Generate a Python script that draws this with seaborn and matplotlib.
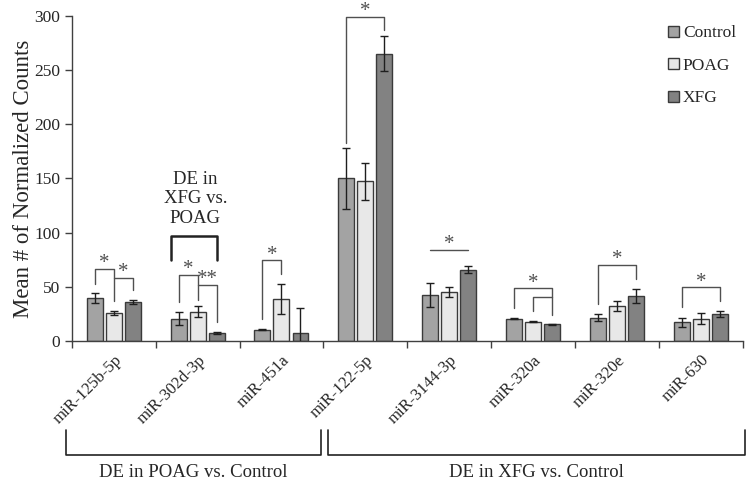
import numpy as np
import pandas as pd
import matplotlib
matplotlib.use("Agg")
import matplotlib.pyplot as plt
import seaborn as sns
from matplotlib.transforms import blended_transform_factory

# ---------------------------------------------------------
# Data
# ---------------------------------------------------------
mirnas = ["miR-125b-5p", "miR-302d-3p", "miR-451a", "miR-122-5p",
          "miR-3144-3p", "miR-320a", "miR-320e", "miR-630"]
groups = ["Control", "POAG", "XFG"]

control = [39.7, 20.7, 10.5, 150.0, 42.2, 20.7, 21.6, 17.3]
control_err = [4.6, 5.8, 0.8, 28.0, 11.2, 0.8, 3.4, 4.3]
poag = [25.9, 27.1, 39.0, 147.5, 45.0, 17.9, 32.3, 20.7]
poag_err = [1.5, 5.2, 14.0, 17.0, 4.7, 0.8, 4.4, 5.2]
xfg = [35.7, 7.4, 7.4, 265.3, 65.9, 15.4, 41.6, 25.0]
xfg_err = [1.9, 0.8, 22.6, 16.5, 3.4, 0.4, 6.8, 2.4]

# significance brackets: (category, left group, right group, top, left leg end, right leg end, label, label y)
brackets = [
    (0, 0, 1, 66.2, 53.0, 37.0, "*", 74.5),
    (0, 1, 2, 58.0, 58.0, 46.8, "*", 66.2),
    (1, 0, 1, 60.6, 36.0, 37.6, "*", 69.0),
    (1, 1, 2, 52.0, 52.0, 17.5, "**", 60.0),
    (2, 0, 1, 74.5, 20.7, 62.0, "*", 82.0),
    (3, 0, 2, 299.0, 183.0, 287.0, "*", 307.7),
    (4, 0, 2, 83.7, 83.7, 83.7, "*", 92.0),
    (5, 0, 2, 49.0, 30.8, 24.4, "*", 56.7),
    (5, 1, 2, 40.6, 27.7, 40.6, "", 0),
    (6, 0, 2, 69.9, 34.5, 57.6, "*", 78.0),
    (7, 0, 2, 49.9, 31.4, 37.0, "*", 57.6),
]

df = pd.DataFrame({
    "miRNA": mirnas * 3,
    "group": [g for g in groups for _ in mirnas],
    "mean": control + poag + xfg,
    "err": control_err + poag_err + xfg_err,
})

# ---------------------------------------------------------
# Plot
# ---------------------------------------------------------
sns.set_style("ticks")
plt.rcParams["font.family"] = ["Liberation Serif", "DejaVu Serif"]

fig, ax = plt.subplots(figsize=(7.48, 4.83), dpi=100)
fig.subplots_adjust(left=0.096, right=0.993, top=0.967, bottom=0.294)

palette = {"Control": "#a3a3a3", "POAG": "#e8e8e8", "XFG": "#828282"}
sns.barplot(data=df, x="miRNA", y="mean", hue="group", hue_order=groups,
            order=mirnas, palette=palette, width=0.68, gap=0.16,
            edgecolor="#3a3a3a", linewidth=1, errorbar=None, ax=ax)

# bar centres from the drawn bars
centers = []
for cont in ax.containers:
    centers.append([b.get_x() + b.get_width() / 2 for b in cont])

for gi, g in enumerate(groups):
    sub = df[df["group"] == g]
    ax.errorbar(centers[gi], sub["mean"], yerr=sub["err"], fmt="none",
                ecolor="#1e1e1e", elinewidth=1, capsize=3.2, capthick=1, zorder=3)

line_c = "#505050"
for cat, a, b, top, la, lb, lab, ly in brackets:
    xa, xb = centers[a][cat], centers[b][cat]
    ax.plot([xa, xa, xb, xb], [la, top, top, lb], color=line_c, lw=1, clip_on=False)
    if lab:
        ax.annotate(lab, ((xa + xb) / 2, ly), xytext=(0, -2.5),
                    textcoords="offset points", ha="center", va="center",
                    fontsize=15, color="#505050", annotation_clip=False)

# XFG vs POAG bracket over miR-302d-3p
bars = ax.containers
x_left = bars[0][1].get_x()
x_right = centers[2][1]
ax.plot([x_left, x_left, x_right, x_right], [74.5, 96.7, 96.7, 75], color="#222222", lw=1.8)
ax.text((x_left + x_right) / 2 + 0.02, 131.3, "DE in\nXFG vs.\nPOAG",
        ha="center", va="center", fontsize=13.5, linespacing=1.18)

# axes styling
ax.set_ylim(0, 300)
ax.set_yticks(range(0, 301, 50))
ax.set_xlim(-0.5, len(mirnas) - 0.5)
ax.set_xticks(np.arange(-0.5, len(mirnas), 1))
ax.set_xticklabels([])
ax.set_xticks(range(len(mirnas)), minor=True)
ax.set_xticklabels(mirnas, minor=True, rotation=45, ha="right",
                   rotation_mode="anchor", fontsize=12)
ax.tick_params(axis="x", which="minor", length=0, pad=8)
ax.tick_params(axis="x", which="major", length=5, width=1, color="#404040")
ax.tick_params(axis="y", length=5, width=1, color="#404040", labelsize=12.5)
ax.set_xlabel("")
ax.set_ylabel("Mean # of Normalized Counts", fontsize=16.5)
ax.yaxis.set_label_coords(-0.056, 0.5)
sns.despine(ax=ax)
for s in ["left", "bottom"]:
    ax.spines[s].set_color("#404040")
    ax.spines[s].set_linewidth(1)

# group brackets under the labels
trans = blended_transform_factory(ax.transData, ax.transAxes)
for x0, x1, label in [(-0.57, 2.47, "DE in POAG vs. Control"),
                      (2.55, 7.53, "DE in XFG vs. Control")]:
    ax.plot([x0, x0, x1, x1], [-0.274, -0.351, -0.351, -0.274], color="#222222",
            lw=1.2, transform=trans, clip_on=False)
    ax.text((x0 + x1) / 2, -0.406, label, transform=trans, ha="center",
            va="center", fontsize=13.5)

handles, labels = ax.get_legend_handles_labels()
ax.legend(handles, labels, loc="upper left", bbox_to_anchor=(0.884, 0.962),
          bbox_transform=fig.transFigure, frameon=False, fontsize=12.5,
          handlelength=0.6, handleheight=0.6, handletextpad=0.25,
          labelspacing=0.95, borderaxespad=0)

fig.savefig("out.png", dpi=100)
